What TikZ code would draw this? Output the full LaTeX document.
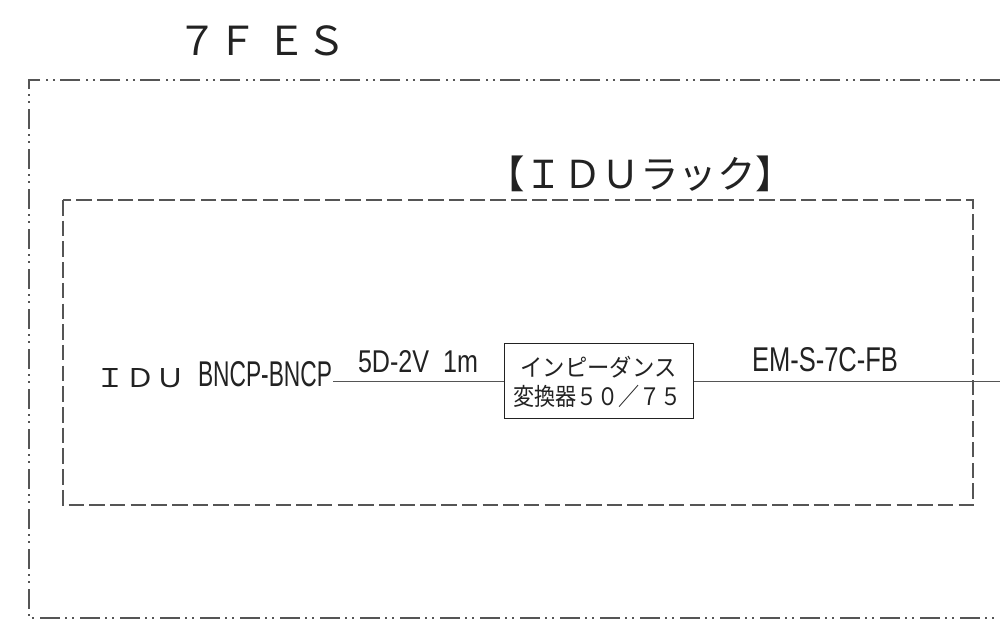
\documentclass[tikz,border=0pt]{standalone}
\usepackage{fontspec}
\setmainfont{Liberation Sans}
\newfontfamily\jpfont{Noto Sans CJK JP}
\definecolor{inkc}{HTML}{222222}
\definecolor{linec}{HTML}{555555}
\begin{document}
\begin{tikzpicture}[x=1pt,y=-1pt,
  txt/.style={inner sep=0pt,outer sep=0pt,text=inkc},
  outerframe/.style={draw=linec,line width=1.1pt,dash pattern=on 20pt off 5pt on 2pt off 5pt on 2pt off 6pt},
  innerframe/.style={draw=linec,line width=1.1pt,dash pattern=on 15.5pt off 5.2pt},
  wire/.style={draw=linec,line width=1pt},
  convbox/.style={draw=inkc,line width=1.1pt,minimum width=189pt,minimum height=75pt,inner sep=0pt}]
\useasboundingbox (0,0) rectangle (1000,630);
% frames
\draw[outerframe] (1000,80) -- (29,80) -- (29,618) -- (1000,618);
\draw[innerframe] (63,200) rectangle (973,505);
% titles
\node[txt] (title) at (262,41) {\fontsize{40}{40}\jpfont ７Ｆ ＥＳ};
\node[txt] (rack) at (640,174) {\fontsize{38.5}{38.5}\jpfont 【ＩＤＵラック】};
% converter
\node[convbox] (conv) at (599,381) {};
\node[txt] (conv1) at (598.5,367) {\scalebox{0.93}[1]{\fontsize{24}{24}\jpfont インピーダンス}};
\node[txt] (conv2) at (597.5,396) {\scalebox{0.88}[1]{\fontsize{24}{24}\jpfont 変換器５０／７５}};
% labels
\node[txt] (idu) at (140,378) {\resizebox{90pt}{19pt}{\jpfont ＩＤＵ}};
\node[txt,anchor=west] (bncp) at (198,374.5) {\resizebox{134pt}{25pt}{BNCP-BNCP}};
\node[txt,anchor=west] (cable) at (358,362) {\resizebox{120pt}{22pt}{5D-2V\ \ 1m}};
\node[txt] (em) at (825,360) {\resizebox{146pt}{24pt}{EM-S-7C-FB}};
% wires
\coordinate (wl) at (333,381);
\coordinate (wr) at (1000,381);
\draw[wire] (wl) -- (conv.west |- wl);
\draw[wire] (conv.east |- wr) -- (wr);
\end{tikzpicture}
\end{document}
